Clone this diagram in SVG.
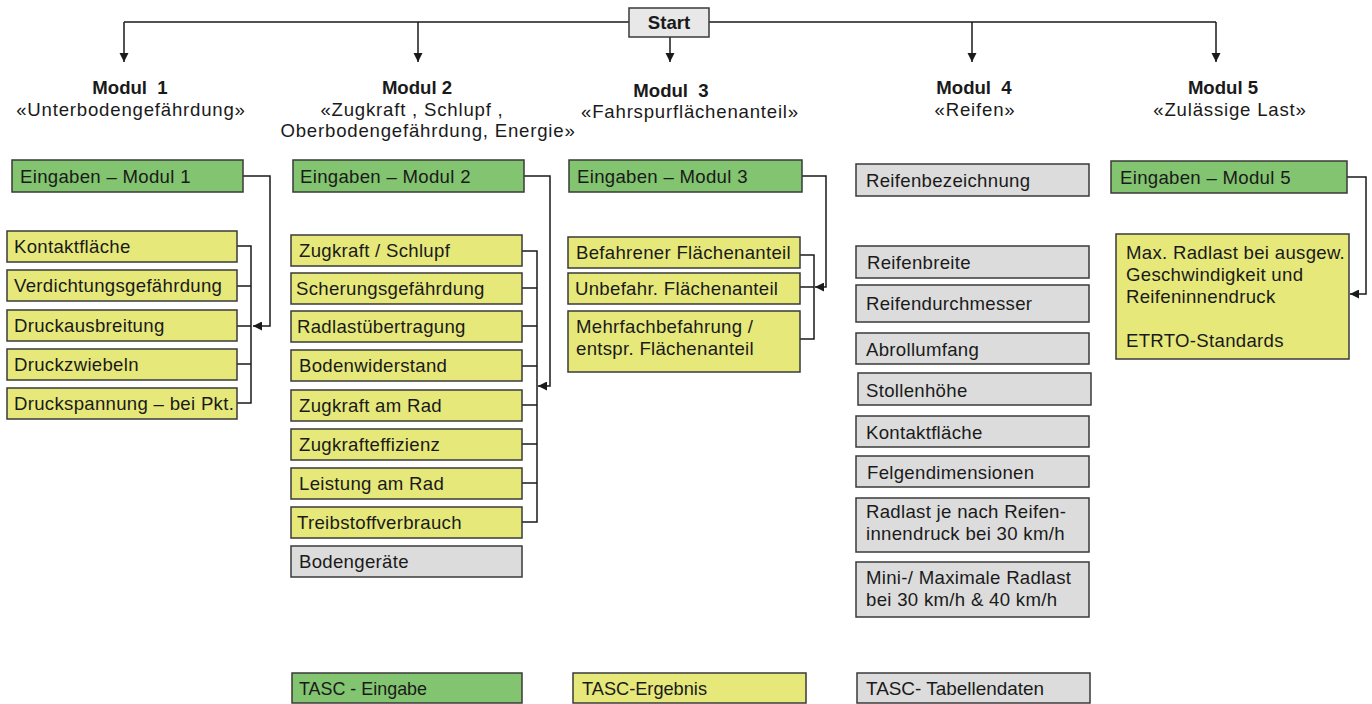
<svg xmlns="http://www.w3.org/2000/svg" width="1372" height="704" viewBox="0 0 1372 704">
<defs>
<marker id="ad" viewBox="0 0 10 10" refX="10" refY="5" markerWidth="9" markerHeight="11" markerUnits="userSpaceOnUse" orient="auto">
<path d="M0,0 L10,5 L0,10 z" fill="#1a1a1a"/>
</marker>
<marker id="al" viewBox="0 0 10 10" refX="10" refY="5" markerWidth="12" markerHeight="9" markerUnits="userSpaceOnUse" orient="auto">
<path d="M0,0 L10,5 L0,10 z" fill="#1a1a1a"/>
</marker>
<style>
.g{fill:#82c46f;stroke:#3a3a3a;stroke-width:1.5}
.y{fill:#e6e87a;stroke:#3a3a3a;stroke-width:1.5}
.r{fill:#dcdcdc;stroke:#3a3a3a;stroke-width:1.5}
.s{fill:#e8e8e8;stroke:#3a3a3a;stroke-width:1.5}
text{font-family:"Liberation Sans",Arial,sans-serif;font-size:18.6px;letter-spacing:0.3px;fill:#1a1a1a}
.h{font-weight:bold;text-anchor:middle;letter-spacing:0}
.c{text-anchor:middle;letter-spacing:0.8px}
.l{font-size:19px;letter-spacing:0}
.w{fill:none;stroke:#1a1a1a;stroke-width:1.5}
</style>
</defs>

<g id="connectors">
<path class="w" d="M124,22 H629 M709,22 H1216"/>
<path class="w" d="M124,22 V62" marker-end="url(#ad)"/>
<path class="w" d="M418,22 V62" marker-end="url(#ad)"/>
<path class="w" d="M670,37 V62" marker-end="url(#ad)"/>
<path class="w" d="M972,22 V62" marker-end="url(#ad)"/>
<path class="w" d="M1216,22 V62" marker-end="url(#ad)"/>
<path class="w" d="M243,176 H270 V326 H253" marker-end="url(#al)"/>
<path class="w" d="M237,246 H251 V403 H237 M237,286 H251 M237,326 H251 M237,364 H251"/>
<path class="w" d="M524,176 H550 V386 H538" marker-end="url(#al)"/>
<path class="w" d="M522,251 H537 V522 H522 M522,288 H537 M522,326 H537 M522,366 H537 M522,405 H537 M522,444 H537 M522,483 H537"/>
<path class="w" d="M802,176 H826 V287 H815" marker-end="url(#al)"/>
<path class="w" d="M800,255 H814 V339 H800 M800,287 H814"/>
<path class="w" d="M1347,177 H1366 V294 H1350" marker-end="url(#al)"/>
</g>

<g id="start"><rect class="s" x="629" y="8" width="80" height="29"/><text class="h" x="669" y="29">Start</text></g>

<g id="modul1-title"><text class="h" x="130" y="94">Modul&#160;&#160;1</text><text class="c" x="131" y="116">«Unterbodengefährdung»</text></g>
<g id="modul2-title"><text class="h" x="417" y="94">Modul 2</text><text class="c" x="412" y="116">«Zugkraft , Schlupf ,</text><text class="c" x="428" y="137">Oberbodengefährdung, Energie»</text></g>
<g id="modul3-title"><text class="h" x="671" y="97">Modul&#160;&#160;3</text><text class="c" x="690" y="118">«Fahrspurflächenanteil»</text></g>
<g id="modul4-title"><text class="h" x="974" y="94">Modul&#160;&#160;4</text><text class="c" x="975" y="116">«Reifen»</text></g>
<g id="modul5-title"><text class="h" x="1223" y="94">Modul 5</text><text class="c" x="1230" y="116">«Zulässige Last»</text></g>

<g id="m1-in"><rect class="g" x="12" y="160" width="231" height="32"/><text x="20" y="183">Eingaben – Modul 1</text></g>
<g id="m1-a"><rect class="y" x="7" y="231" width="230" height="31"/><text x="14" y="253">Kontaktfläche</text></g>
<g id="m1-b"><rect class="y" x="7" y="270" width="230" height="31"/><text x="14" y="292">Verdichtungsgefährdung</text></g>
<g id="m1-c"><rect class="y" x="7" y="310" width="230" height="31"/><text x="14" y="332">Druckausbreitung</text></g>
<g id="m1-d"><rect class="y" x="7" y="349" width="230" height="31"/><text x="14" y="371">Druckzwiebeln</text></g>
<g id="m1-e"><rect class="y" x="7" y="388" width="230" height="31"/><text x="14" y="410">Druckspannung – bei Pkt.</text></g>

<g id="m2-in"><rect class="g" x="293" y="160" width="231" height="32"/><text x="300" y="183">Eingaben – Modul 2</text></g>
<g id="m2-a"><rect class="y" x="291" y="235" width="231" height="31"/><text x="299" y="257">Zugkraft / Schlupf</text></g>
<g id="m2-b"><rect class="y" x="291" y="273" width="231" height="31"/><text x="296" y="295">Scherungsgefährdung</text></g>
<g id="m2-c"><rect class="y" x="291" y="311" width="231" height="31"/><text x="297" y="333">Radlastübertragung</text></g>
<g id="m2-d"><rect class="y" x="291" y="350" width="231" height="31"/><text x="299" y="372">Bodenwiderstand</text></g>
<g id="m2-e"><rect class="y" x="291" y="390" width="231" height="31"/><text x="299" y="412">Zugkraft am Rad</text></g>
<g id="m2-f"><rect class="y" x="291" y="429" width="231" height="31"/><text x="299" y="451">Zugkrafteffizienz</text></g>
<g id="m2-g"><rect class="y" x="291" y="468" width="231" height="31"/><text x="299" y="490">Leistung am Rad</text></g>
<g id="m2-h"><rect class="y" x="291" y="507" width="231" height="31"/><text x="297" y="529">Treibstoffverbrauch</text></g>
<g id="m2-i"><rect class="r" x="291" y="546" width="231" height="31"/><text x="299" y="568">Bodengeräte</text></g>

<g id="m3-in"><rect class="g" x="569" y="160" width="233" height="32"/><text x="577" y="183">Eingaben – Modul 3</text></g>
<g id="m3-a"><rect class="y" x="568" y="237" width="232" height="31"/><text x="576" y="259">Befahrener Flächenanteil</text></g>
<g id="m3-b"><rect class="y" x="568" y="273" width="232" height="31"/><text x="575" y="295">Unbefahr. Flächenanteil</text></g>
<g id="m3-c"><rect class="y" x="568" y="311" width="232" height="61"/><text x="576" y="333">Mehrfachbefahrung /</text><text x="576" y="355">entspr. Flächenanteil</text></g>

<g id="m4-a"><rect class="r" x="856" y="164" width="233" height="32"/><text x="866" y="187">Reifenbezeichnung</text></g>
<g id="m4-b"><rect class="r" x="856" y="246" width="233" height="32"/><text x="867" y="269">Reifenbreite</text></g>
<g id="m4-c"><rect class="r" x="856" y="285" width="233" height="37"/><text x="866" y="310">Reifendurchmesser</text></g>
<g id="m4-d"><rect class="r" x="856" y="333" width="233" height="31"/><text x="866" y="356">Abrollumfang</text></g>
<g id="m4-e"><rect class="r" x="858" y="373" width="233" height="32"/><text x="866" y="397">Stollenhöhe</text></g>
<g id="m4-f"><rect class="r" x="856" y="416" width="233" height="31"/><text x="866" y="439">Kontaktfläche</text></g>
<g id="m4-g"><rect class="r" x="856" y="456" width="233" height="31"/><text x="867" y="479">Felgendimensionen</text></g>
<g id="m4-h"><rect class="r" x="856" y="498" width="233" height="54"/><text x="866" y="518">Radlast je nach Reifen-</text><text x="866" y="540">innendruck bei 30 km/h</text></g>
<g id="m4-i"><rect class="r" x="856" y="562" width="233" height="55"/><text x="866" y="584">Mini-/ Maximale Radlast</text><text x="866" y="606">bei 30 km/h &amp; 40 km/h</text></g>

<g id="m5-in"><rect class="g" x="1111" y="161" width="236" height="32"/><text x="1120" y="184">Eingaben – Modul 5</text></g>
<g id="m5-a"><rect class="y" x="1116" y="234" width="233" height="125"/><text x="1126" y="259">Max. Radlast bei ausgew.</text><text x="1126" y="281">Geschwindigkeit und</text><text x="1126" y="303">Reifeninnendruck</text><text x="1126" y="347">ETRTO-Standards</text></g>

<g id="legend-eingabe"><rect class="g" x="292" y="673" width="230" height="30"/><text class="l" x="299" y="695" textLength="128" lengthAdjust="spacingAndGlyphs">TASC - Eingabe</text></g>
<g id="legend-ergebnis"><rect class="y" x="573" y="673" width="233" height="30"/><text class="l" x="582" y="695" textLength="125" lengthAdjust="spacingAndGlyphs">TASC-Ergebnis</text></g>
<g id="legend-tabelle"><rect class="r" x="857" y="673" width="233" height="30"/><text class="l" x="866" y="695" textLength="178" lengthAdjust="spacingAndGlyphs">TASC- Tabellendaten</text></g>
</svg>
